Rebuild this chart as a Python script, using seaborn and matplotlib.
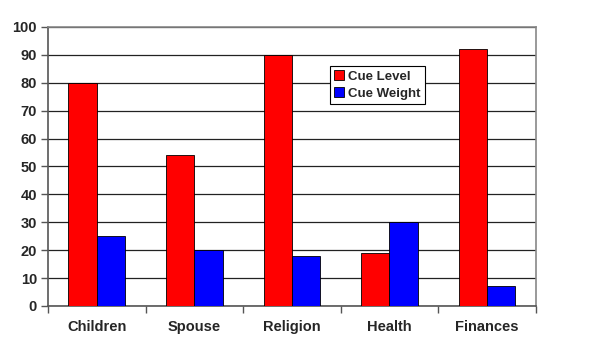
import numpy as np
import pandas as pd
import matplotlib
matplotlib.use("Agg")
import matplotlib.pyplot as plt
import seaborn as sns

# values
categories = ["Children", "Spouse", "Religion", "Health", "Finances"]
cue_level = [80, 54, 90, 19, 92]
cue_weight = [25, 20, 18, 30, 7]
series = ["Cue Level", "Cue Weight"]
colors = ["#ff0000", "#0000ff"]

df = pd.DataFrame({
    "category": categories * 2,
    "value": cue_level + cue_weight,
    "series": [series[0]] * len(categories) + [series[1]] * len(categories),
})

sns.set_theme(style="white")
plt.rcParams["font.family"] = ["Liberation Sans", "DejaVu Sans"]
plt.rcParams["font.weight"] = "bold"

fig = plt.figure(figsize=(6, 3.5), dpi=100)
ax = fig.add_axes([0.08, 0.126, 0.813, 0.797])

sns.barplot(data=df, x="category", y="value", hue="series", order=categories,
            hue_order=series, palette=colors, width=0.58, gap=0,
            edgecolor="black", linewidth=0.6, saturation=1, ax=ax, zorder=3)

ax.set_ylim(0, 100)
ax.set_xlim(-0.5, len(categories) - 0.5)
ax.set_yticks(np.arange(0, 101, 10))
ax.yaxis.grid(True, color="#222222", linewidth=0.9, zorder=0)
ax.set_axisbelow(True)

# category boundaries get the tick marks, labels sit in the middle
ax.set_xticks(np.arange(-0.5, len(categories), 1.0))
ax.set_xticklabels([])
ax.set_xticks(np.arange(len(categories)), minor=True)
ax.set_xticklabels(categories, minor=True, fontsize=10.5, fontweight="bold")
ax.tick_params(axis="x", which="major", direction="out", length=5, color="#555555", width=1, bottom=True)
ax.tick_params(axis="x", which="minor", length=0, pad=10)
ax.tick_params(axis="y", direction="out", length=5, color="#555555", width=1, left=True,
               labelsize=10.5, pad=3)
for lab in ax.get_yticklabels():
    lab.set_fontweight("bold")

ax.set_xlabel("")
ax.set_ylabel("")
for side in ["left", "bottom"]:
    ax.spines[side].set_color("#555555")
    ax.spines[side].set_linewidth(1.2)
for side in ["top", "right"]:
    ax.spines[side].set_visible(True)
    ax.spines[side].set_color("#888888")
    ax.spines[side].set_linewidth(1.2)

leg = ax.legend(loc="upper left", bbox_to_anchor=(0.578, 0.86), frameon=True,
                fancybox=False, edgecolor="black", framealpha=1,
                prop={"weight": "bold", "size": 9.5},
                handlelength=0.8, handleheight=0.8, handletextpad=0.3,
                borderpad=0.3, labelspacing=0.35, borderaxespad=0)
leg.get_frame().set_linewidth(0.8)

fig.savefig("out.png", dpi=100)
